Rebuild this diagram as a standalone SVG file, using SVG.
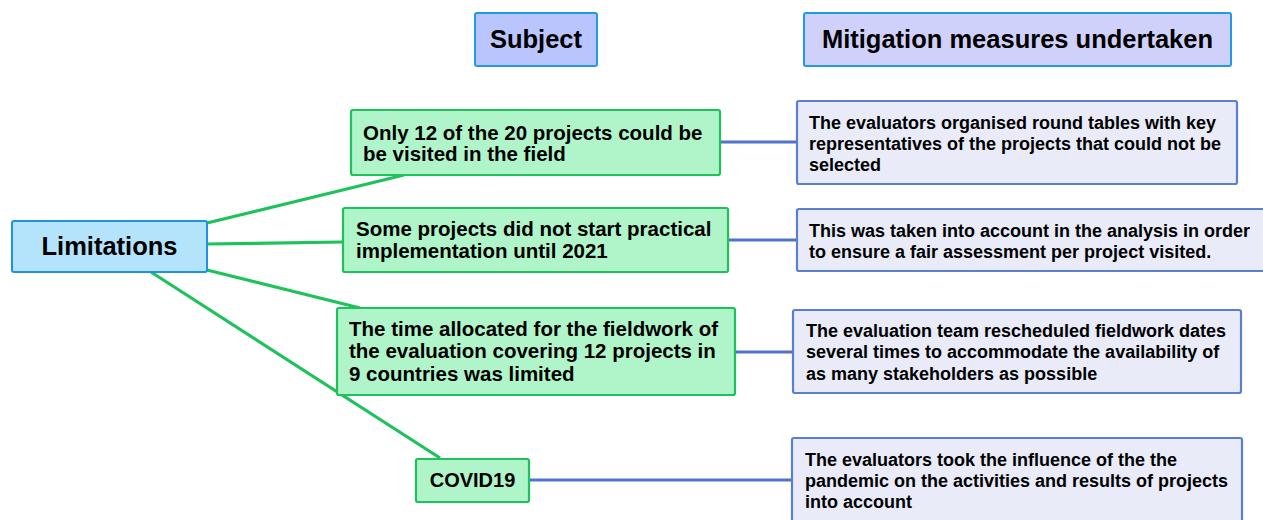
<svg xmlns="http://www.w3.org/2000/svg" width="1263" height="520" viewBox="0 0 1263 520">
<style>
text{font-family:"Liberation Sans",Arial,sans-serif;font-weight:bold;fill:#000}
.hdr{stroke:#1e9ae8;stroke-width:2}
.h{font-size:25.5px}
.g{fill:#aff5c9;stroke:#1dc25a;stroke-width:2.2}
.gt{font-size:20.5px}
.b{fill:#e9ecf8;stroke:#5b7fcf;stroke-width:2.2}
.bt{font-size:18px}
.gl{stroke:#1dc25a;stroke-width:3.2;fill:none}
.bl{stroke:#4f74c9;stroke-width:3.2;fill:none}
</style>
<rect width="1263" height="520" fill="#fff"/>
<g id="connectors">
<line class="gl" x1="207" y1="223" x2="404" y2="175"/>
<line class="gl" x1="207" y1="244" x2="343" y2="242"/>
<line class="gl" x1="207" y1="270" x2="360" y2="308"/>
<line class="gl" x1="151" y1="272" x2="440" y2="458"/>
<line class="bl" x1="720" y1="142" x2="797" y2="142"/>
<line class="bl" x1="728" y1="240" x2="797" y2="240"/>
<line class="bl" x1="735" y1="352" x2="793" y2="352"/>
<line class="bl" x1="529" y1="480" x2="792" y2="480"/>
</g>
<g id="subject">
<rect class="hdr" x="475" y="13" width="122" height="53" rx="2" fill="#bac4fd"/>
<text class="h" x="536" y="48" text-anchor="middle">Subject</text>
</g>
<g id="mitigation">
<rect class="hdr" x="804" y="13" width="427" height="53" rx="2" fill="#d0d1fb"/>
<text class="h" x="1017.5" y="48" text-anchor="middle">Mitigation measures undertaken</text>
</g>
<g id="limitations">
<rect x="12" y="221" width="195" height="51" rx="2" fill="#b3e4fc" stroke="#1e90e8" stroke-width="2"/>
<text class="h" x="109.5" y="255" text-anchor="middle">Limitations</text>
</g>
<g id="subject1">
<rect class="g" x="351" y="110" width="369" height="65" rx="2"/>
<text class="gt" x="363" y="140">Only 12 of the 20 projects could be</text>
<text class="gt" x="363" y="161">be visited in the field</text>
</g>
<g id="subject2">
<rect class="g" x="343" y="208" width="385" height="64" rx="2"/>
<text class="gt" x="356" y="236">Some projects did not start practical</text>
<text class="gt" x="356" y="258">implementation until 2021</text>
</g>
<g id="subject3">
<rect class="g" x="337" y="308" width="398" height="87" rx="2"/>
<text class="gt" x="349" y="336">The time allocated for the fieldwork of</text>
<text class="gt" x="349" y="358">the evaluation covering 12 projects in</text>
<text class="gt" x="349" y="381">9 countries was limited</text>
</g>
<g id="subject4">
<rect class="g" x="416" y="459" width="113" height="43" rx="2"/>
<text x="472.5" y="487" text-anchor="middle" style="font-size:20px">COVID19</text>
</g>
<g id="measure1">
<rect class="b" x="797" y="101" width="440" height="83" rx="2"/>
<text class="bt" x="809" y="129">The evaluators organised round tables with key</text>
<text class="bt" x="809" y="150">representatives of the projects that could not be</text>
<text class="bt" x="809" y="171">selected</text>
</g>
<g id="measure2">
<rect class="b" x="797" y="209" width="475" height="62" rx="2"/>
<text class="bt" x="809" y="237">This was taken into account in the analysis in order</text>
<text class="bt" x="809" y="258">to ensure a fair assessment per project visited.</text>
</g>
<g id="measure3">
<rect class="b" x="793" y="310" width="448" height="83" rx="2"/>
<text class="bt" x="806" y="337">The evaluation team rescheduled fieldwork dates</text>
<text class="bt" x="806" y="358">several times to accommodate the availability of</text>
<text class="bt" x="806" y="380">as many stakeholders as possible</text>
</g>
<g id="measure4">
<rect class="b" x="792" y="438" width="450" height="95" rx="2"/>
<text class="bt" x="805" y="466">The evaluators took the influence of the the</text>
<text class="bt" x="805" y="487">pandemic on the activities and results of projects</text>
<text class="bt" x="805" y="508">into account</text>
</g>
</svg>
